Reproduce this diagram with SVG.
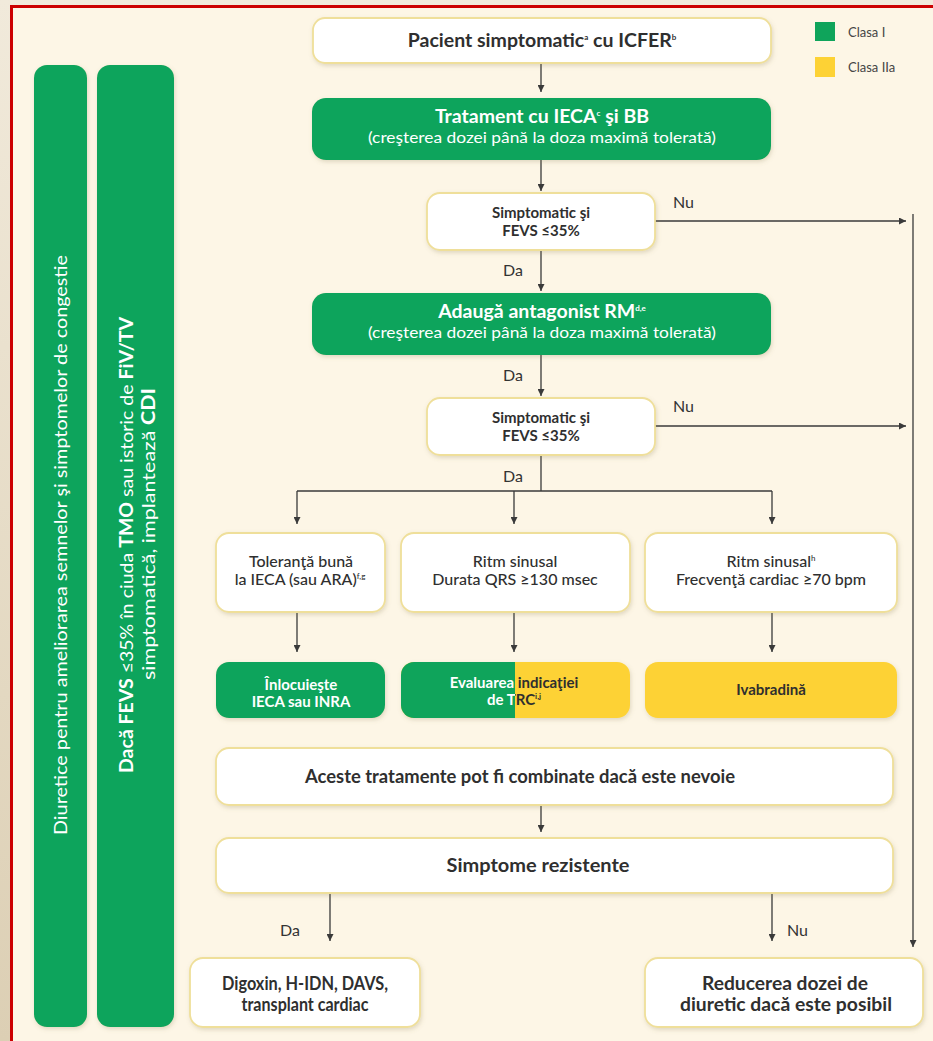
<svg xmlns="http://www.w3.org/2000/svg" width="933" height="1041" viewBox="0 0 933 1041">
<defs>
<linearGradient id="bg" x1="0" y1="0" x2="0" y2="1"><stop offset="0" stop-color="#f1eadb"/><stop offset="1" stop-color="#dccfb4"/></linearGradient>
<filter id="sh" x="-10%" y="-20%" width="120%" height="150%"><feDropShadow dx="1" dy="2" stdDeviation="2" flood-color="#8a7a50" flood-opacity="0.25"/></filter>
<marker id="ah" viewBox="0 0 10 10" refX="10" refY="5" markerWidth="8" markerHeight="7" orient="auto" markerUnits="userSpaceOnUse"><path d="M0,0 L10,5 L0,10 z" fill="#3a3a3a"/></marker>
<clipPath id="clipG"><rect x="395" y="655" width="120" height="70"/></clipPath>
<clipPath id="clipY"><rect x="515" y="655" width="120" height="70"/></clipPath>
<style>
.wb{fill:#fff;stroke:#efdf9a;stroke-width:1.8;filter:url(#sh)}
.gb{fill:#0fa45b;filter:url(#sh)}
.yb{fill:#fdd235;filter:url(#sh)}
.t{font-family:Lato,"Open Sans",sans-serif;fill:#2f2f2f;text-anchor:middle}
.b{font-weight:700}
.m{font-weight:500}
.w{fill:#fff}
.lbl{font-family:Lato,"Open Sans",sans-serif;fill:#333;font-size:16px}
.c{stroke:#3a3a3a;stroke-width:1.3;fill:none}
.sup{font-size:8px}
</style>
</defs>
<rect x="0" y="0" width="933" height="1041" fill="url(#bg)"/>
<rect x="10" y="5" width="923" height="1036" fill="#fdf6e6"/>
<line x1="10" y1="6.5" x2="933" y2="6.5" stroke="#cc0000" stroke-width="3"/>
<line x1="11.5" y1="5" x2="11.5" y2="1041" stroke="#cc0000" stroke-width="3"/>

<g id="legend">
<rect x="815" y="22" width="20" height="19" fill="#0fa45b"/>
<text x="848" y="37" style="font-family:Lato,sans-serif;font-size:13px;fill:#444">Clasa I</text>
<rect x="815" y="57" width="20" height="20" fill="#fdd235"/>
<text x="848" y="72" style="font-family:Lato,sans-serif;font-size:13px;fill:#444">Clasa IIa</text>
</g>

<g id="bar1">
<rect x="34" y="65" width="53" height="962" rx="13" class="gb"/>
<text class="t w" transform="translate(67,545) rotate(-90)" font-size="17" textLength="580" lengthAdjust="spacingAndGlyphs">Diuretice pentru ameliorarea semnelor şi simptomelor de congestie</text>
</g>
<g id="bar2">
<rect x="97" y="65" width="77" height="962" rx="13" class="gb"/>
<text class="t w" transform="translate(133,545) rotate(-90)" font-size="18" textLength="456" lengthAdjust="spacingAndGlyphs"><tspan class="b">Dacă FEVS</tspan> ≤35% în ciuda <tspan class="b">TMO</tspan> sau istoric de <tspan class="b">FiV/TV</tspan></text>
<text class="t w" transform="translate(155,534) rotate(-90)" font-size="18" textLength="292" lengthAdjust="spacingAndGlyphs">simptomatică, implantează <tspan class="b">CDI</tspan></text>
</g>

<g id="connectors">
<line class="c" x1="541" y1="63" x2="541" y2="92" marker-end="url(#ah)"/>
<line class="c" x1="541" y1="160" x2="541" y2="191" marker-end="url(#ah)"/>
<line class="c" x1="541" y1="250" x2="541" y2="291" marker-end="url(#ah)"/>
<line class="c" x1="655" y1="221" x2="906" y2="221" marker-end="url(#ah)"/>
<line class="c" x1="541" y1="355" x2="541" y2="396" marker-end="url(#ah)"/>
<line class="c" x1="655" y1="426" x2="906" y2="426" marker-end="url(#ah)"/>
<line class="c" x1="913" y1="214" x2="913" y2="947" marker-end="url(#ah)"/>
<line class="c" x1="541" y1="455" x2="541" y2="491"/>
<line class="c" x1="297" y1="491" x2="772" y2="491"/>
<line class="c" x1="297" y1="491" x2="297" y2="524" marker-end="url(#ah)"/>
<line class="c" x1="514" y1="491" x2="514" y2="524" marker-end="url(#ah)"/>
<line class="c" x1="772" y1="491" x2="772" y2="524" marker-end="url(#ah)"/>
<line class="c" x1="297" y1="612" x2="297" y2="652" marker-end="url(#ah)"/>
<line class="c" x1="514" y1="612" x2="514" y2="652" marker-end="url(#ah)"/>
<line class="c" x1="772" y1="612" x2="772" y2="652" marker-end="url(#ah)"/>
<line class="c" x1="541" y1="805" x2="541" y2="832" marker-end="url(#ah)"/>
<line class="c" x1="330" y1="893" x2="330" y2="941" marker-end="url(#ah)"/>
<line class="c" x1="772" y1="893" x2="772" y2="941" marker-end="url(#ah)"/>
<text class="lbl" x="673" y="208">Nu</text>
<text class="lbl" x="673" y="412">Nu</text>
<text class="lbl" x="503" y="276">Da</text>
<text class="lbl" x="503" y="381">Da</text>
<text class="lbl" x="503" y="482">Da</text>
<text class="lbl" x="280" y="936">Da</text>
<text class="lbl" x="787" y="936">Nu</text>
</g>

<g id="n_pacient">
<rect x="313" y="18" width="458" height="45" rx="12" class="wb"/>
<text class="t b" x="542" y="47" font-size="19.5">Pacient simptomatic<tspan class="sup" dy="-7">a</tspan><tspan dy="7"> cu ICFER</tspan><tspan class="sup" dy="-7">b</tspan></text>
</g>
<g id="n_trat">
<rect x="312" y="98" width="459" height="62" rx="14" class="gb"/>
<text class="t b w" x="542" y="123" font-size="19.5">Tratament cu IECA<tspan class="sup" dy="-7">c</tspan><tspan dy="7"> şi BB</tspan></text>
<text class="t w" x="542" y="143" font-size="16" textLength="348" lengthAdjust="spacingAndGlyphs">(creşterea dozei până la doza maximă tolerată)</text>
</g>
<g id="n_dec1">
<rect x="427" y="193" width="228" height="57" rx="13" class="wb"/>
<text class="t b" x="541" y="218" font-size="15">Simptomatic şi</text>
<text class="t b" x="541" y="236" font-size="15">FEVS ≤35%</text>
</g>
<g id="n_adauga">
<rect x="312" y="293" width="459" height="62" rx="14" class="gb"/>
<text class="t b w" x="542" y="318" font-size="19.5">Adaugă antagonist RM<tspan class="sup" dy="-7">d,e</tspan></text>
<text class="t w" x="542" y="338" font-size="16" textLength="348" lengthAdjust="spacingAndGlyphs">(creşterea dozei până la doza maximă tolerată)</text>
</g>
<g id="n_dec2">
<rect x="427" y="398" width="228" height="57" rx="13" class="wb"/>
<text class="t b" x="541" y="423" font-size="15">Simptomatic şi</text>
<text class="t b" x="541" y="441" font-size="15">FEVS ≤35%</text>
</g>
<g id="n_toleranta">
<rect x="216" y="533" width="169" height="79" rx="13" class="wb"/>
<text class="t m" x="301" y="567" font-size="16">Toleranţă bună</text>
<text class="t m" x="300" y="585" font-size="16">la IECA (sau ARA)<tspan class="sup" dy="-6">f,g</tspan></text>
</g>
<g id="n_ritm1">
<rect x="401" y="533" width="229" height="79" rx="13" class="wb"/>
<text class="t m" x="515" y="567" font-size="16">Ritm sinusal</text>
<text class="t m" x="515" y="585" font-size="16">Durata QRS ≥130 msec</text>
</g>
<g id="n_ritm2">
<rect x="645" y="533" width="252" height="79" rx="13" class="wb"/>
<text class="t m" x="771" y="567" font-size="16">Ritm sinusal<tspan class="sup" dy="-6">h</tspan></text>
<text class="t m" x="771" y="585" font-size="16">Frecvenţă cardiac ≥70 bpm</text>
</g>
<g id="n_inlocuieste">
<rect x="216" y="662" width="169" height="56" rx="13" class="gb"/>
<text class="t b w" x="301" y="690" font-size="15">Înlocuieşte</text>
<text class="t b w" x="301" y="707" font-size="15">IECA sau INRA</text>
</g>
<g id="n_trc">
<rect x="401" y="662" width="229" height="56" rx="13" class="yb"/>
<rect x="401" y="662" width="229" height="56" rx="13" fill="#0fa45b" clip-path="url(#clipG)"/>
<g clip-path="url(#clipG)">
<text class="t b w" x="514" y="688" font-size="15">Evaluarea indicaţiei</text>
<text class="t b w" x="514" y="705" font-size="15">de TRC<tspan class="sup" dy="-6">i,j</tspan></text>
</g>
<g clip-path="url(#clipY)">
<text class="t b" x="514" y="688" font-size="15">Evaluarea indicaţiei</text>
<text class="t b" x="514" y="705" font-size="15">de TRC<tspan class="sup" dy="-6">i,j</tspan></text>
</g>
</g>
<g id="n_ivabradina">
<rect x="645" y="662" width="252" height="56" rx="13" class="yb"/>
<text class="t b" x="771" y="695" font-size="15">Ivabradină</text>
</g>
<g id="n_aceste">
<rect x="216" y="748" width="677" height="57" rx="13" class="wb"/>
<text class="t b" x="520" y="783" font-size="18" textLength="430" lengthAdjust="spacingAndGlyphs">Aceste tratamente pot fi combinate dacă este nevoie</text>
</g>
<g id="n_simptome">
<rect x="216" y="838" width="677" height="55" rx="13" class="wb"/>
<text class="t b" x="538" y="872" font-size="18" textLength="183" lengthAdjust="spacingAndGlyphs">Simptome rezistente</text>
</g>
<g id="n_digoxin">
<rect x="190" y="958" width="230" height="69" rx="13" class="wb"/>
<text class="t b" x="305" y="990" font-size="18" textLength="166" lengthAdjust="spacingAndGlyphs">Digoxin, H-IDN, DAVS,</text>
<text class="t b" x="305" y="1011" font-size="18" textLength="127" lengthAdjust="spacingAndGlyphs">transplant cardiac</text>
</g>
<g id="n_reducerea">
<rect x="645" y="958" width="278" height="69" rx="13" class="wb"/>
<text class="t b" x="785" y="990" font-size="18" textLength="166" lengthAdjust="spacingAndGlyphs">Reducerea dozei de</text>
<text class="t b" x="786" y="1011" font-size="18" textLength="212" lengthAdjust="spacingAndGlyphs">diuretic dacă este posibil</text>
</g>
</svg>
